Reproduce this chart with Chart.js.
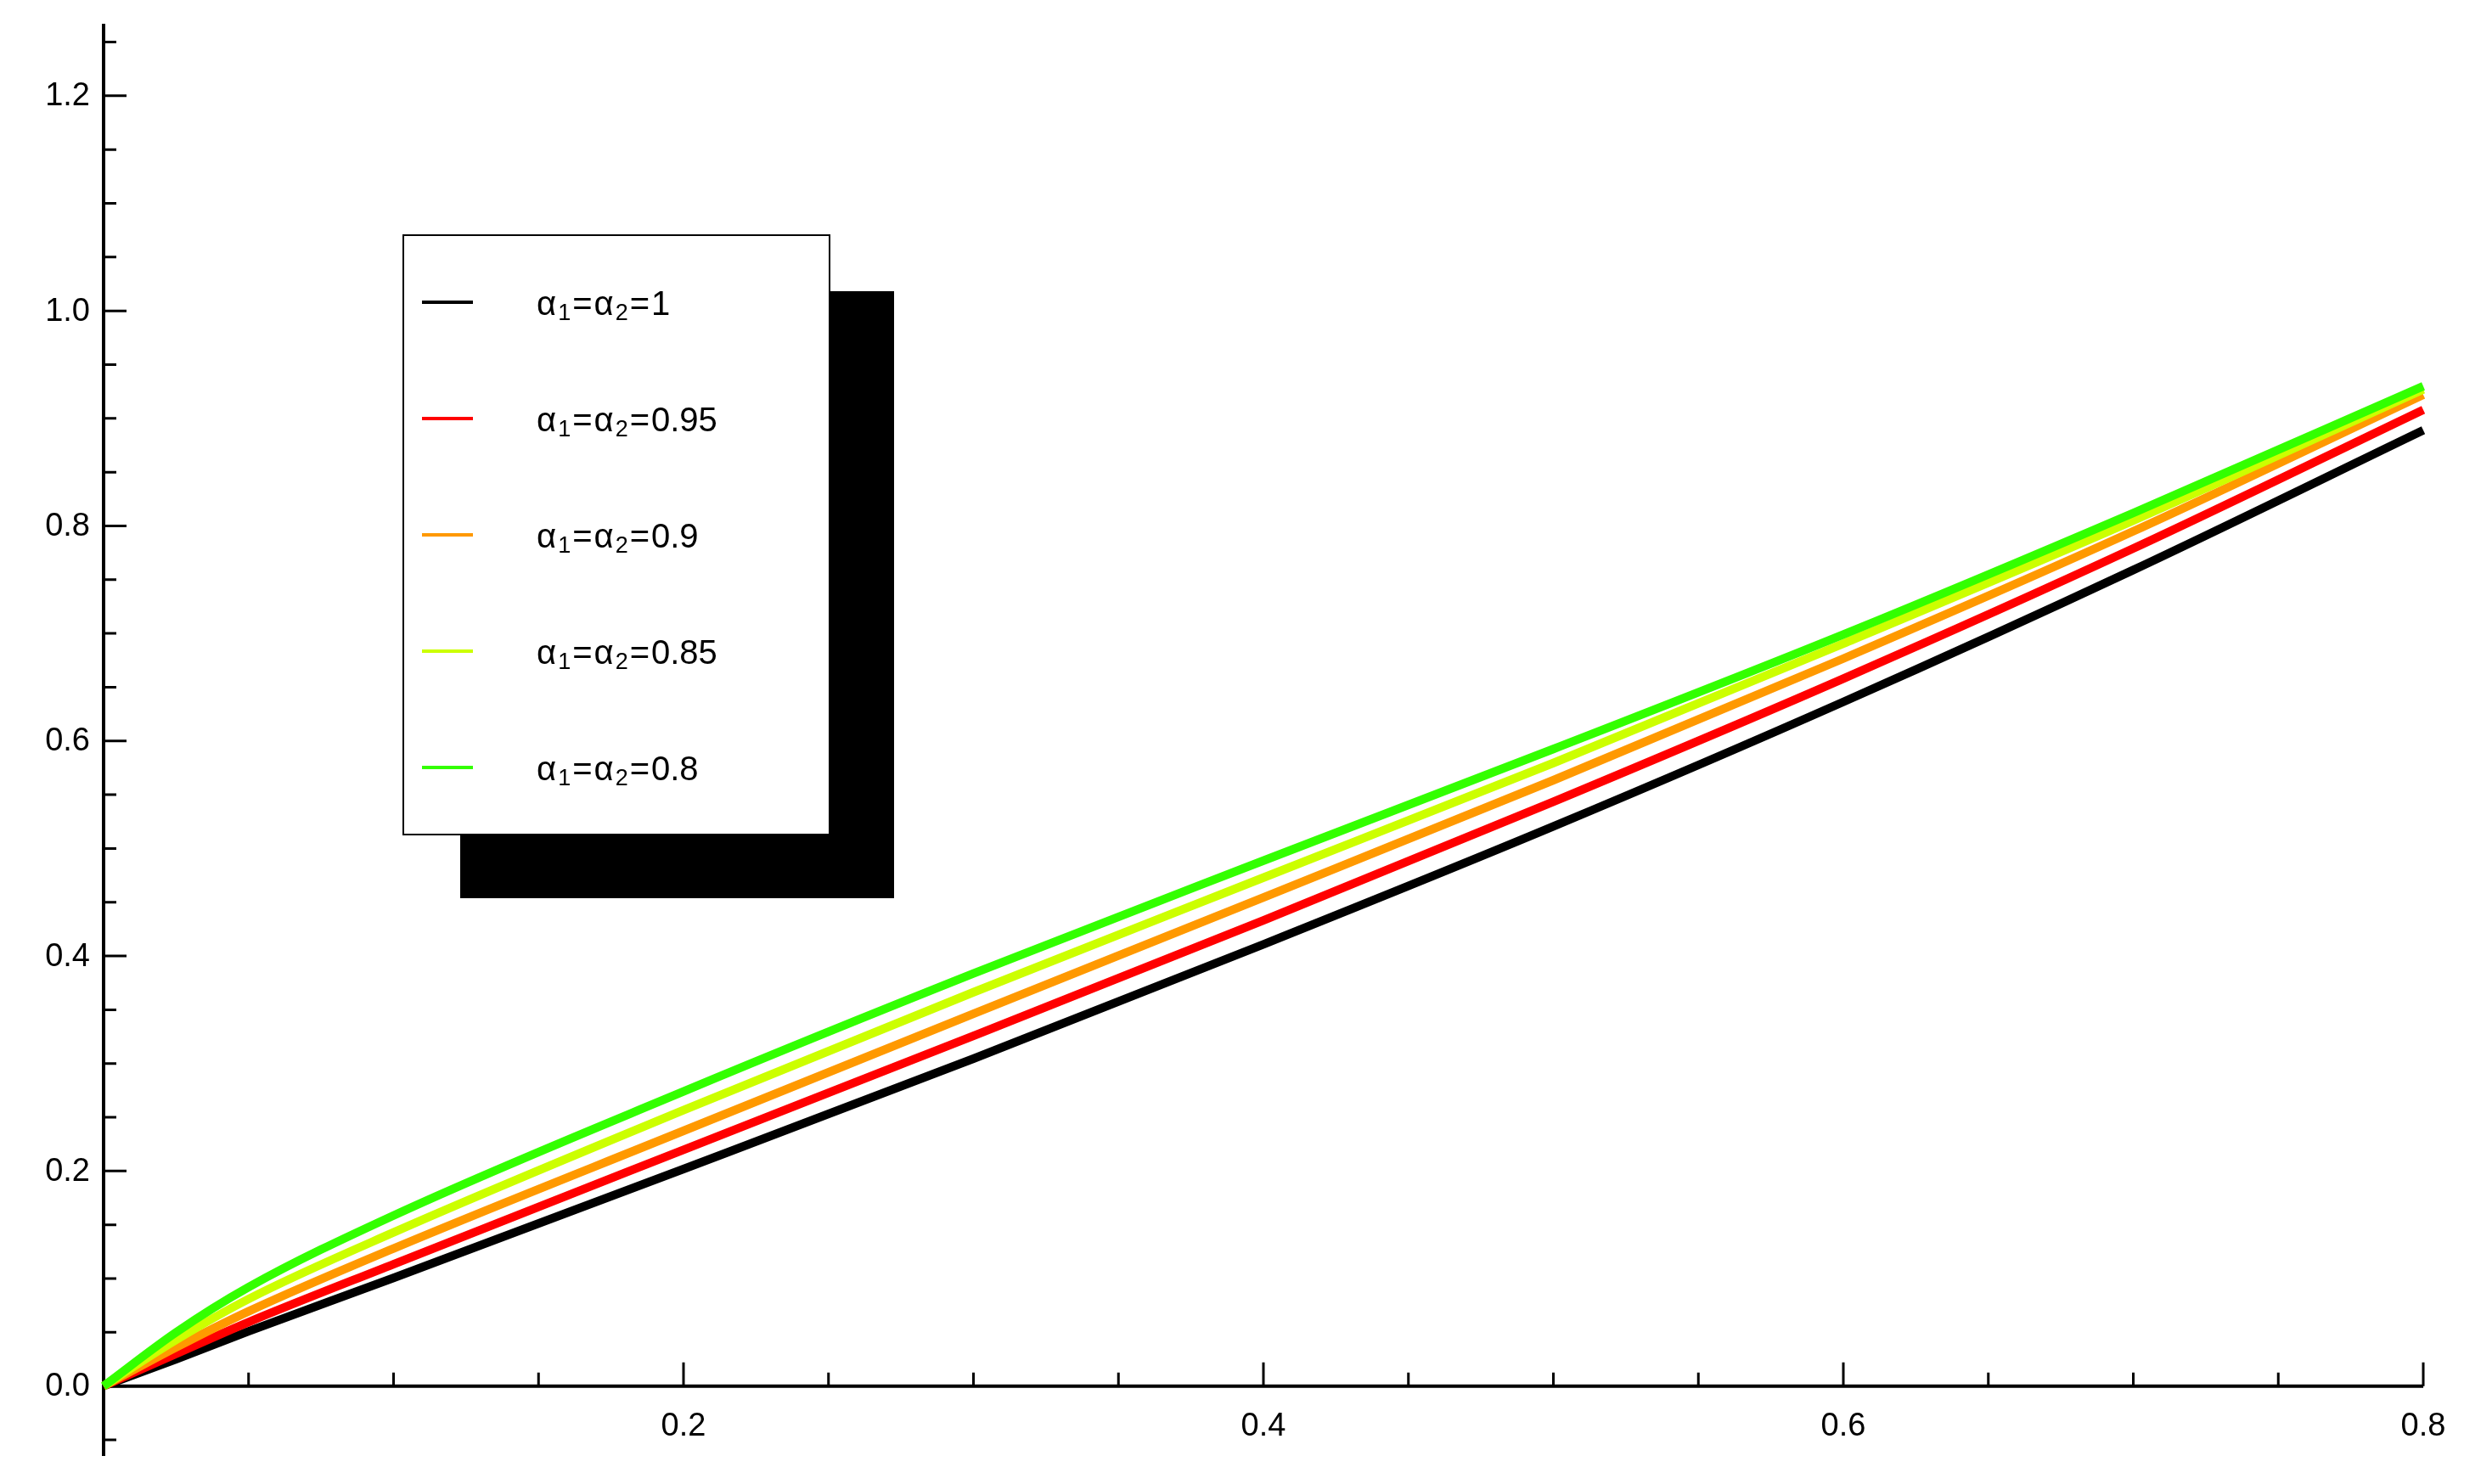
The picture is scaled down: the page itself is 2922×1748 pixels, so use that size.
<!DOCTYPE html>
<html>
<head>
<meta charset="utf-8">
<script src="https://cdn.jsdelivr.net/npm/chart.js@4.4.1/dist/chart.umd.min.js"></script>
<style>
html, body { margin: 0; padding: 0; background: #fff; }
#wrap { width: 2922px; height: 1748px; }
</style>
</head>
<body>
<div id="wrap"><canvas id="chart" width="2922" height="1748"></canvas></div>
<script>
var xValues = [0, 0.025, 0.05, 0.1, 0.2, 0.3, 0.4, 0.5, 0.6, 0.7, 0.8];
var alpha100 = [0, 0.025, 0.051, 0.1006, 0.2019, 0.3045, 0.4108, 0.5205, 0.6363, 0.759, 0.889];
var alpha095 = [0, 0.030, 0.0595, 0.1134, 0.2198, 0.3258, 0.4332, 0.5435, 0.658, 0.779, 0.908];
var alpha090 = [0, 0.036, 0.0695, 0.128, 0.2374, 0.3463, 0.4545, 0.5635, 0.6766, 0.795, 0.922];
var alpha085 = [0, 0.043, 0.081, 0.1429, 0.2566, 0.3663, 0.4729, 0.5795, 0.6905, 0.805, 0.927];
var alpha080 = [0, 0.050, 0.092, 0.1587, 0.274, 0.3837, 0.4887, 0.5925, 0.699, 0.812, 0.93];

var alphaLabels = ["1", "0.95", "0.9", "0.85", "0.8"];
var seriesColors = ["#000000", "#ff0000", "#ff9900", "#ccff00", "#33ff00"];

var xMajorTicks = [0.2, 0.4, 0.6, 0.8];
var xTickLabels = ["0.2", "0.4", "0.6", "0.8"];
var xMinorTicks = [0.05, 0.1, 0.15, 0.25, 0.3, 0.35, 0.45, 0.5, 0.55, 0.65, 0.7, 0.75];
var yMajorTicks = [0, 0.2, 0.4, 0.6, 0.8, 1.0, 1.2];
var yTickLabels = ["0.0", "0.2", "0.4", "0.6", "0.8", "1.0", "1.2"];
var yMinorTicks = [-0.05, 0.05, 0.1, 0.15, 0.25, 0.3, 0.35, 0.45, 0.5, 0.55, 0.65, 0.7, 0.75,
    0.85, 0.9, 0.95, 1.05, 1.1, 1.15, 1.25];

var FONT = "'Liberation Sans', Arial, Helvetica, sans-serif";

function toPoints(ys) {
    return xValues.map(function(x, i) { return { x: x, y: ys[i] }; });
}

var allSeries = [alpha100, alpha095, alpha090, alpha085, alpha080];
var datasets = allSeries.map(function(ys, i) {
    return {
        label: "\u03b1\u2081=\u03b1\u2082=" + alphaLabels[i],
        data: toPoints(ys),
        borderColor: seriesColors[i],
        backgroundColor: seriesColors[i],
        borderWidth: 10,
        pointRadius: 0,
        fill: false,
        cubicInterpolationMode: "monotone",
        clip: false,
        order: allSeries.length - i
    };
});

var axesPlugin = {
    id: "axes",
    beforeDatasetsDraw: function(chart) {
        var ctx = chart.ctx, sx = chart.scales.x, sy = chart.scales.y;
        var x0 = sx.getPixelForValue(0), y0 = sy.getPixelForValue(0);
        ctx.save();
        ctx.strokeStyle = "#000";
        ctx.fillStyle = "#000";
        ctx.lineWidth = 4;
        ctx.beginPath();
        ctx.moveTo(x0, sy.top);
        ctx.lineTo(x0, sy.bottom);
        ctx.moveTo(x0 - 2, y0);
        ctx.lineTo(sx.right, y0);
        ctx.stroke();

        ctx.lineWidth = 3;
        ctx.beginPath();
        xMajorTicks.forEach(function(v) {
            var p = sx.getPixelForValue(v);
            ctx.moveTo(p, y0);
            ctx.lineTo(p, y0 - 28);
        });
        xMinorTicks.forEach(function(v) {
            var p = sx.getPixelForValue(v);
            ctx.moveTo(p, y0);
            ctx.lineTo(p, y0 - 16);
        });
        yMajorTicks.forEach(function(v) {
            var p = sy.getPixelForValue(v);
            ctx.moveTo(x0, p);
            ctx.lineTo(x0 + 27, p);
        });
        yMinorTicks.forEach(function(v) {
            var p = sy.getPixelForValue(v);
            ctx.moveTo(x0, p);
            ctx.lineTo(x0 + 15, p);
        });
        ctx.stroke();

        ctx.font = "38px " + FONT;
        ctx.textAlign = "center";
        ctx.textBaseline = "top";
        xMajorTicks.forEach(function(v, i) {
            ctx.fillText(xTickLabels[i], sx.getPixelForValue(v), y0 + 29);
        });
        ctx.textAlign = "right";
        ctx.textBaseline = "middle";
        yMajorTicks.forEach(function(v, i) {
            ctx.fillText(yTickLabels[i], x0 - 16, sy.getPixelForValue(v) + 1);
        });
        ctx.restore();
    },
    afterDraw: function(chart) {
        var ctx = chart.ctx;
        ctx.save();
        // shadow + box
        ctx.fillStyle = "#000";
        ctx.fillRect(542, 343, 511, 715);
        ctx.fillStyle = "#fff";
        ctx.fillRect(474, 276, 504, 708);
        ctx.strokeStyle = "#000";
        ctx.lineWidth = 2;
        ctx.strokeRect(475, 277, 502, 706);

        alphaLabels.forEach(function(lab, i) {
            var ry = 356 + i * 137;
            ctx.strokeStyle = seriesColors[i];
            ctx.lineWidth = 4;
            ctx.beginPath();
            ctx.moveTo(497, ry);
            ctx.lineTo(557, ry);
            ctx.stroke();

            ctx.fillStyle = "#000";
            ctx.textAlign = "left";
            ctx.textBaseline = "alphabetic";
            var tx = 632, base = ry + 15;
            var parts = [["\u03b1", 0], ["1", 1], ["=", 0], ["\u03b1", 0], ["2", 1], ["=", 0], [lab, 0]];
            parts.forEach(function(p) {
                ctx.font = (p[1] ? "27px " : "40px ") + FONT;
                ctx.fillText(p[0], tx, base + (p[1] ? 6 : 0));
                tx += ctx.measureText(p[0]).width + 2;
            });
        });
        ctx.restore();
    }
};

new Chart(document.getElementById("chart"), {
    type: "line",
    data: { datasets: datasets },
    options: {
        responsive: false,
        animation: false,
        devicePixelRatio: 1,
        layout: { padding: { left: 122, right: 68, top: 28, bottom: 33 } },
        plugins: { legend: { display: false }, tooltip: { enabled: false } },
        scales: {
            x: { type: "linear", min: 0, max: 0.8, display: false },
            y: { type: "linear", min: -0.065, max: 1.267, display: false }
        }
    },
    plugins: [axesPlugin]
});
</script>
</body>
</html>
